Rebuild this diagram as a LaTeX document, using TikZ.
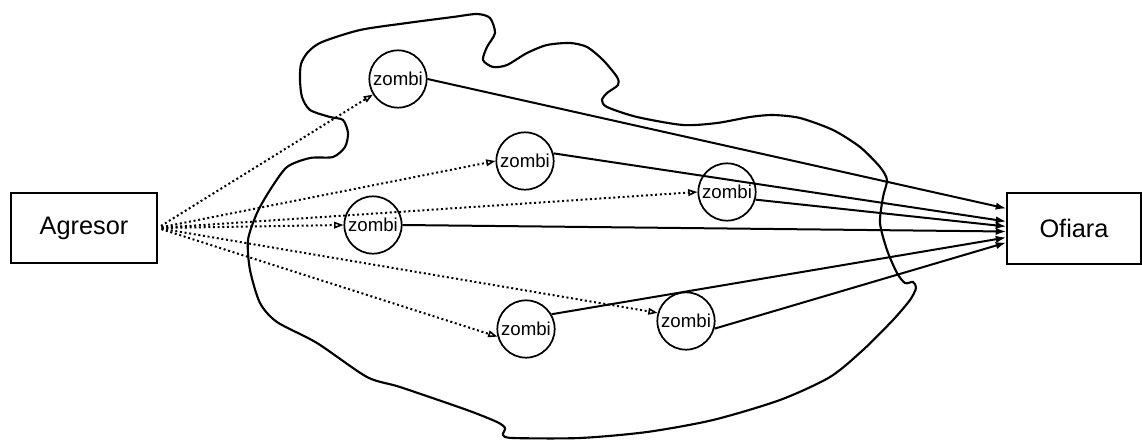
\documentclass[tikz,border=0pt]{standalone}
\usepackage{fontspec}
\setmainfont{Liberation Sans}
\usetikzlibrary{arrows.meta,calc}

\begin{document}
\begin{tikzpicture}[x=0.75pt,y=-0.75pt,
  party/.style={rectangle,draw,line width=1.4pt,minimum height=53pt,inner sep=0pt,font=\fontsize{19}{22}\selectfont},
  zombie/.style={circle,draw,line width=1.3pt,minimum size=43pt,inner sep=0pt,font=\fontsize{14}{16}\selectfont},
  order/.style={dotted,line width=1.5pt,shorten <=3pt,-{Triangle[open,length=7pt,width=5pt,line width=1.2pt]}},
  attack/.style={line width=1.5pt,-{Latex[length=8pt,width=5.5pt]}}]
  \useasboundingbox (0,0) rectangle (1142,439);

  \draw [line width=1.6pt] plot [smooth cycle,tension=0.45] coordinates {
    (301,64) (308,52) (322,42) (360,30) (407,23) (453,17) (477,14) (490,18) (495,33)
    (487,47) (483,60) (493,67) (507,65) (527,53) (547,45) (570,43) (587,47)
    (603,60) (617,77) (618,85) (607,93) (602,100) (607,107) (637,117) (683,125)
    (717,123) (750,117) (773,115) (800,118) (833,130) (860,147) (880,167) (887,180)
    (883,197) (880,223) (887,250) (897,273) (905,283) (913,282) (916,288) (910,300)
    (893,320) (863,350) (830,377) (780,400) (713,420) (647,432) (580,438) (513,438)
    (503,435) (505,428) (497,422) (467,410) (400,387) (367,377) (317,343) (277,322)
    (260,303) (250,270) (248,240) (257,213) (270,190) (287,167) (310,158) (333,157)
    (345,147) (348,133) (343,120) (330,117) (310,110) (302,97) (300,80)};

  \node [party,minimum width=109pt] (agresor) at (84,228) {Agresor};
  \node [party,minimum width=100pt] (ofiara) at (1074,228.5) {Ofiara};

  \node [zombie] (z1) at (398,79) {zombi};
  \node [zombie] (z2) at (525,161) {zombi};
  \node [zombie] (z3) at (727,192) {zombi};
  \node [zombie] (z4) at (373,225) {zombi};
  \node [zombie] (z5) at (526,329) {zombi};
  \node [zombie] (z6) at (686,321) {zombi};

  \draw [order] (agresor.east) -- (z1);
  \draw [order] (agresor.east) -- (z2.west);
  \draw [order] (agresor.east) -- (z3.west);
  \draw [order] (agresor.east) -- (z4.west);
  \draw [order] (agresor.east) -- (z5.195);
  \draw [order] (agresor.east) -- (z6.164);

  \draw [attack] (z1.east) -- ($(ofiara.west)+(0,-20)$);
  \draw [attack] (z2.15) -- ($(ofiara.west)+(0,-7)$);
  \draw [attack] (z3.-15) -- ($(ofiara.west)+(0,-2)$);
  \draw [attack] (z4.east) -- ($(ofiara.west)+(0,3)$);
  \draw [attack] (z5.30) -- ($(ofiara.west)+(0,9)$);
  \draw [attack] (z6.-15) -- ($(ofiara.west)+(0,14)$);
\end{tikzpicture}
\end{document}
